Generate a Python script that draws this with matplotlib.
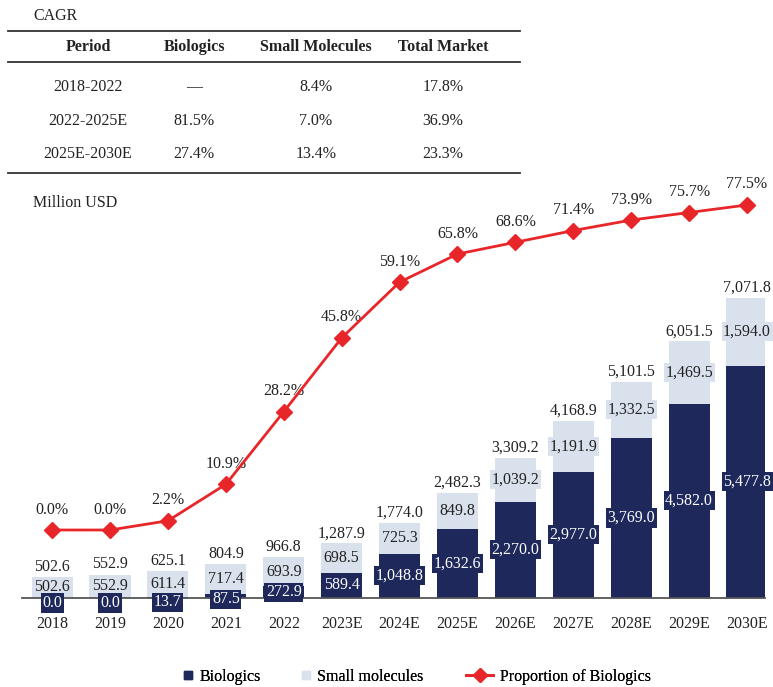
import matplotlib
matplotlib.use("Agg")
import matplotlib.pyplot as plt
from matplotlib.lines import Line2D
import numpy as np

plt.rcParams['font.family'] = ['Liberation Serif', 'DejaVu Serif']

years = ["2018", "2019", "2020", "2021", "2022", "2023E", "2024E", "2025E",
         "2026E", "2027E", "2028E", "2029E", "2030E"]
biologics = [0.0, 0.0, 13.7, 87.5, 272.9, 589.4, 1048.8, 1632.6, 2270.0, 2977.0, 3769.0, 4582.0, 5477.8]
small_mol = [502.6, 552.9, 611.4, 717.4, 693.9, 698.5, 725.3, 849.8, 1039.2, 1191.9, 1332.5, 1469.5, 1594.0]
totals = [502.6, 552.9, 625.1, 804.9, 966.8, 1287.9, 1774.0, 2482.3, 3309.2, 4168.9, 5101.5, 6051.5, 7071.8]
proportion = [0.0, 0.0, 2.2, 10.9, 28.2, 45.8, 59.1, 65.8, 68.6, 71.4, 73.9, 75.7, 77.5]

cagr_header = ["Period", "Biologics", "Small Molecules", "Total Market"]
cagr_rows = [["2018-2022", "—", "8.4%", "17.8%"],
             ["2022-2025E", "81.5%", "7.0%", "36.9%"],
             ["2025E-2030E", "27.4%", "13.4%", "23.3%"]]

NAVY = "#1e285a"
LIGHT = "#d9e1ec"
RED = "#e8262a"
TXT = "#222222"
FS = 11.5

W, H = 773, 687
fig = plt.figure(figsize=(W / 100, H / 100), dpi=100)

def fx(px):
    return px / W

def fy(py):
    return 1 - py / H

# ---- CAGR table ----
fig.text(fx(33), fy(16), "CAGR", fontsize=FS, color=TXT, va="center", ha="left")
for yy in [31, 62, 173]:
    fig.add_artist(Line2D([fx(8), fx(520)], [fy(yy), fy(yy)], color="#333333", lw=1.3))
col_x = [88, 194, 316, 443]
for cx, h in zip(col_x, cagr_header):
    fig.text(fx(cx), fy(47), h, fontsize=FS, fontweight="bold", color=TXT, ha="center", va="center")
for ry, row in zip([87, 121, 154], cagr_rows):
    for cx, v in zip(col_x, row):
        fig.text(fx(cx), fy(ry), v, fontsize=FS, color=TXT, ha="center", va="center")

fig.text(fx(33), fy(203), "Million USD", fontsize=FS, color=TXT, ha="left", va="center")

# ---- Chart ----
ax_h_px = 598 - 190
ax = fig.add_axes([fx(22), fy(598), fx(743), ax_h_px / H])
x = np.arange(len(years))
bw = 0.71
ymax = ax_h_px / 0.04242
ax.bar(x, biologics, bw, color=NAVY, zorder=2)
ax.bar(x, small_mol, bw, bottom=biologics, color=LIGHT, zorder=2)

ax.set_xlim(-0.52, 12.31)
ax.set_ylim(0, ymax)
for s in ["top", "right", "left"]:
    ax.spines[s].set_visible(False)
ax.spines["bottom"].set_color("#555555")
ax.spines["bottom"].set_linewidth(1.3)
ax.spines["bottom"].set_zorder(3)
ax.set_yticks([])
ax.set_xticks(x)
ax.set_xticklabels(years, fontsize=FS, color=TXT)
ax.tick_params(axis="x", length=0, pad=13)

px_per_unit = ax_h_px / ymax
for i in range(len(years)):
    ax.text(x[i], biologics[i] + small_mol[i] / 2, f"{small_mol[i]:,.1f}", ha="center", va="center",
            fontsize=FS, color=TXT, zorder=5,
            bbox=dict(boxstyle="square,pad=0.1", fc=LIGHT, ec="none"))
    bar_px = biologics[i] * px_per_unit
    down_px = max(0.0, 5 - bar_px * 0.5)
    ax.annotate(f"{biologics[i]:,.1f}", (x[i], biologics[i] / 2), xytext=(0, -down_px * 0.72),
                textcoords="offset points", ha="center", va="center",
                fontsize=FS, color="white", zorder=6, annotation_clip=False,
                bbox=dict(boxstyle="square,pad=0.1", fc=NAVY, ec="none"))
    ax.annotate(f"{totals[i]:,.1f}", (x[i], totals[i]), xytext=(0, 1.5), textcoords="offset points",
                ha="center", va="bottom", fontsize=FS, color=TXT, zorder=5)

ax2 = ax.twinx()
ax2.set_ylim(-68 / 4.194, 340 / 4.194)
ax2.plot(x, proportion, color=RED, lw=2, marker="D", markersize=8, zorder=4)
for s in ["top", "right", "left", "bottom"]:
    ax2.spines[s].set_visible(False)
ax2.set_yticks([])
for i in range(len(years)):
    ax2.annotate(f"{proportion[i]:.1f}%", (x[i], proportion[i]), xytext=(0, 9), textcoords="offset points",
                 ha="center", va="bottom", fontsize=FS, color=TXT)

# ---- Legend (three single-entry legends) ----
entries = [
    (Line2D([], [], ls="none", marker="s", markersize=6, color=NAVY), "Biologics", 184, 0.5),
    (Line2D([], [], ls="none", marker="s", markersize=6, color=LIGHT), "Small molecules", 302, 0.5),
    (Line2D([], [], color=RED, lw=2, marker="D", markersize=7), "Proportion of Biologics", 466, 1.7),
]
for h, lab, px, hl in entries:
    leg = fig.legend([h], [lab], loc="center left", bbox_to_anchor=(fx(px), fy(677)), frameon=False,
                     fontsize=FS, handlelength=hl, handletextpad=0.45, borderpad=0, borderaxespad=0)
    fig.add_artist(leg)

fig.savefig("out.png", dpi=100)
